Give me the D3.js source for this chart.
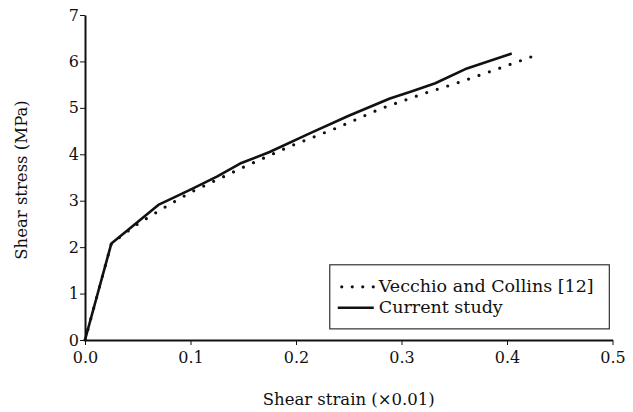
<!DOCTYPE html>
<html>
<head>
<meta charset="utf-8">
<script src="https://cdn.jsdelivr.net/npm/d3@7"></script>
<style>
  body { margin: 0; background: #fff; }
  svg text { font-family: "DejaVu Serif", "Liberation Serif", serif; fill: #111; }
</style>
</head>
<body>
<div id="chart"></div>
<script>
// Data
const currentStrain = [0, 0.025, 0.045, 0.0695, 0.1, 0.125, 0.147, 0.175, 0.213, 0.25, 0.289, 0.31, 0.332, 0.362, 0.4045];
const currentStress = [0, 2.08, 2.45, 2.91, 3.24, 3.52, 3.8, 4.05, 4.45, 4.83, 5.2, 5.36, 5.53, 5.85, 6.17];

const vecchioStrain = [0, 0.025, 0.05, 0.075, 0.1, 0.15, 0.194, 0.24, 0.28, 0.32, 0.352, 0.38, 0.406, 0.428];
const vecchioStress = [0, 2.08, 2.5, 2.85, 3.18, 3.72, 4.17, 4.58, 4.98, 5.3, 5.53, 5.75, 5.96, 6.14];

const xTicks = [0, 0.1, 0.2, 0.3, 0.4, 0.5];
const yTicks = [0, 1, 2, 3, 4, 5, 6, 7];

const seriesNames = ['Vecchio and Collins [12]', 'Current study'];

const width = 633, height = 412;
const margin = {top: 15, right: 20.5, bottom: 72, left: 85};

const svg = d3.select('#chart')
  .append('svg')
    .attr('width', width)
    .attr('height', height);

const x = d3.scaleLinear()
  .domain([0, 0.5])
  .range([margin.left, width - margin.right]);

const y = d3.scaleLinear()
  .domain([0, 7])
  .range([height - margin.bottom, margin.top]);

// Axes
const xAxis = svg.append('g')
  .attr('transform', `translate(0,${y(0)})`)
  .call(d3.axisBottom(x).tickValues(xTicks).tickFormat(d3.format('.1f')).tickSize(5).tickSizeOuter(0));

const yAxis = svg.append('g')
  .attr('transform', `translate(${x(0)},0)`)
  .call(d3.axisLeft(y).tickValues(yTicks).tickFormat(d3.format('d')).tickSize(5).tickSizeOuter(0));

[xAxis, yAxis].forEach(g => {
  g.select('.domain').attr('stroke', '#111').attr('stroke-width', 2);
  g.selectAll('.tick line').attr('stroke', '#111').attr('stroke-width', 1);
  g.selectAll('.tick text')
    .style('font-family', '"DejaVu Serif", serif')
    .style('font-size', '16px')
    .attr('fill', '#111');
});
xAxis.selectAll('.tick text').attr('dy', '0.95em');
yAxis.selectAll('.tick text').attr('x', -6);

// Axis titles
svg.append('text')
  .attr('x', (x(0) + x(0.5)) / 2)
  .attr('y', 405)
  .attr('text-anchor', 'middle')
  .style('font-size', '16.5px')
  .text('Shear strain (×0.01)');

svg.append('text')
  .attr('transform', `translate(27,180) rotate(-90)`)
  .attr('text-anchor', 'middle')
  .style('font-size', '16.5px')
  .text('Shear stress (MPa)');

// Lines
const line = d3.line()
  .x(d => x(d[0]))
  .y(d => y(d[1]));

const vecchio = vecchioStrain.map((v, i) => [v, vecchioStress[i]]);
const current = currentStrain.map((v, i) => [v, currentStress[i]]);

svg.append('path')
  .datum(vecchio)
  .attr('d', line)
  .attr('fill', 'none')
  .attr('stroke', '#111')
  .attr('stroke-width', 3.2)
  .attr('stroke-linecap', 'round')
  .attr('stroke-dasharray', '0 11');

svg.append('path')
  .datum(current)
  .attr('d', line)
  .attr('fill', 'none')
  .attr('stroke', '#111')
  .attr('stroke-width', 2.6)
  .attr('stroke-linejoin', 'round');

// Legend
const legendX = x(0.232), legendY = y(1.62);
const legendW = x(0.497) - legendX, legendH = y(0.24) - legendY;

const legend = svg.append('g');
legend.append('rect')
  .attr('x', legendX)
  .attr('y', legendY)
  .attr('width', legendW)
  .attr('height', legendH)
  .attr('fill', '#fff')
  .attr('stroke', '#333')
  .attr('stroke-width', 1.2);

seriesNames.forEach((name, i) => {
  const ly = legendY + 27 + i * 21;
  legend.append('line')
    .attr('x1', i === 0 ? legendX + 12 : legendX + 8)
    .attr('x2', legendX + 44)
    .attr('y1', ly - 5)
    .attr('y2', ly - 5)
    .attr('stroke', '#111')
    .attr('stroke-width', i === 0 ? 3.2 : 2.6)
    .attr('stroke-linecap', i === 0 ? 'round' : 'butt')
    .attr('stroke-dasharray', i === 0 ? '0 10.5' : null);
  legend.append('text')
    .attr('x', legendX + 49)
    .attr('y', ly)
    .style('font-size', '17.5px')
    .text(name);
});
</script>
</body>
</html>
